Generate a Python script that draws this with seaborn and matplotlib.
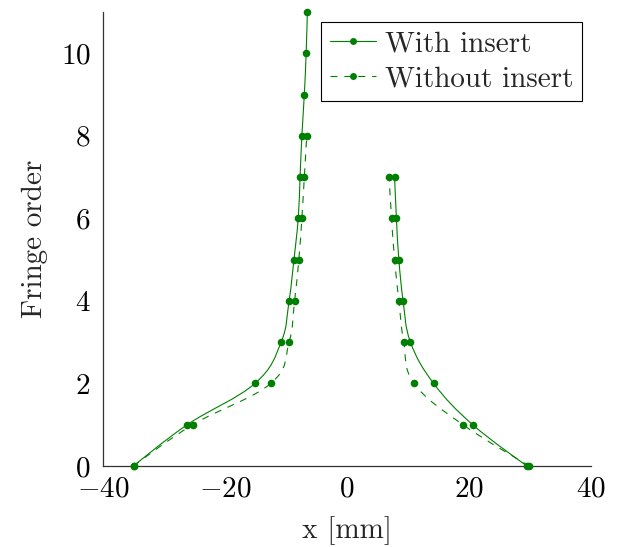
import numpy as np
import pandas as pd
import matplotlib
matplotlib.use("Agg")
import matplotlib.pyplot as plt
import seaborn as sns
from matplotlib.path import Path
from matplotlib.patches import PathPatch
from matplotlib.lines import Line2D

# Fringe positions (x in mm) for each fringe order, on both sides of the centre
with_left_order = [0, 1, 2, 3, 4, 5, 6, 7, 8, 9, 10, 11]
with_left_x = [-35.0, -26.2, -15.1, -10.8, -9.5, -8.7, -8.0, -7.7, -7.4, -7.0, -6.7, -6.5]

without_left_order = [0, 1, 2, 3, 4, 5, 6, 7, 8]
without_left_x = [-35.0, -25.3, -12.5, -9.5, -8.6, -7.9, -7.4, -7.0, -6.6]

with_right_order = [0, 1, 2, 3, 4, 5, 6, 7]
with_right_x = [29.5, 20.6, 14.2, 10.4, 9.2, 8.5, 8.1, 7.8]

without_right_order = [0, 1, 2, 3, 4, 5, 6, 7]
without_right_x = [29.9, 19.0, 11.0, 9.3, 8.5, 7.8, 7.3, 6.9]

x_ticks = [-40, -20, 0, 20, 40]
y_ticks = [0, 2, 4, 6, 8, 10]

sns.set_theme(style="white")
plt.rcParams["font.family"] = "serif"
plt.rcParams["font.serif"] = ["cmr10"]
plt.rcParams["mathtext.fontset"] = "cm"
plt.rcParams["axes.formatter.use_mathtext"] = True
plt.rcParams["axes.unicode_minus"] = True
plt.rcParams["lines.scale_dashes"] = False

GREEN = "#008000"
FS = 21

fig = plt.figure(figsize=(6.21, 5.47), dpi=100)
ax = fig.add_axes([0.1659, 0.1481, 0.7858, 0.8300])


def smooth_path(xs, ys, factor=0.19):
    """Cubic Bezier path through the points (cardinal-spline style)."""
    pts = np.column_stack([xs, ys]).astype(float)
    n = len(pts)
    verts = [pts[0]]
    codes = [Path.MOVETO]
    for i in range(n - 1):
        p0, p1 = pts[i], pts[i + 1]
        if i == 0:
            c1 = p0
        else:
            c1 = p0 + factor * (pts[i + 1] - pts[i - 1])
        if i + 1 == n - 1:
            c2 = p1
        else:
            c2 = p1 - factor * (pts[i + 2] - pts[i])
        verts += [c1, c2, p1]
        codes += [Path.CURVE4] * 3
    return Path(verts, codes)


series = [
    (with_left_x, with_left_order, "-"),
    (with_right_x, with_right_order, "-"),
    (without_left_x, without_left_order, "--"),
    (without_right_x, without_right_order, "--"),
]

for xs, ys, ls in series:
    patch = PathPatch(smooth_path(xs, ys), facecolor="none", edgecolor=GREEN,
                      lw=0.8, zorder=2, clip_on=False)
    if ls == "--":
        patch.set_linestyle((0, (5, 5)))
    ax.add_patch(patch)

frames = []
for name, xs, ys in [("With insert", with_left_x, with_left_order),
                     ("With insert", with_right_x, with_right_order),
                     ("Without insert", without_left_x, without_left_order),
                     ("Without insert", without_right_x, without_right_order)]:
    frames.append(pd.DataFrame({"x": xs, "order": ys, "series": name}))
df = pd.concat(frames, ignore_index=True)

sns.scatterplot(data=df, x="x", y="order", ax=ax, color=GREEN, s=30,
                edgecolor=GREEN, linewidth=0, legend=False, zorder=3,
                clip_on=False)

ax.set_xlim(-40, 40)
ax.set_ylim(0, 11)
ax.set_xticks(x_ticks)
ax.set_yticks(y_ticks)

for side in ["top", "right"]:
    ax.spines[side].set_visible(False)
for side in ["left", "bottom"]:
    ax.spines[side].set_color("#333333")
    ax.spines[side].set_linewidth(0.9)

ax.tick_params(axis="both", direction="in", length=8, width=0.9,
               color="#aaaaaa", labelsize=FS, labelcolor="black")
ax.tick_params(axis="x", pad=7)
ax.tick_params(axis="y", pad=9)

ax.set_xlabel("x [mm]", fontsize=FS, labelpad=10)
ax.set_ylabel("Fringe order", fontsize=FS, labelpad=9)

handles = [
    Line2D([], [], color=GREEN, lw=0.8, marker="o", markersize=5,
           markeredgewidth=0),
    Line2D([], [], color=GREEN, lw=0.8, ls=(0, (5, 5)), marker="o",
           markersize=5, markeredgewidth=0),
]
leg = ax.legend(handles, ["With insert", "Without insert"], loc="upper right",
                bbox_to_anchor=(0.982, 0.978), fontsize=FS, frameon=True,
                fancybox=False, framealpha=1, edgecolor="black",
                handlelength=1.6, handletextpad=0.3, labelspacing=0.3,
                borderpad=0.3, borderaxespad=0)
leg.get_frame().set_linewidth(0.8)

fig.savefig("out.png", dpi=100)
